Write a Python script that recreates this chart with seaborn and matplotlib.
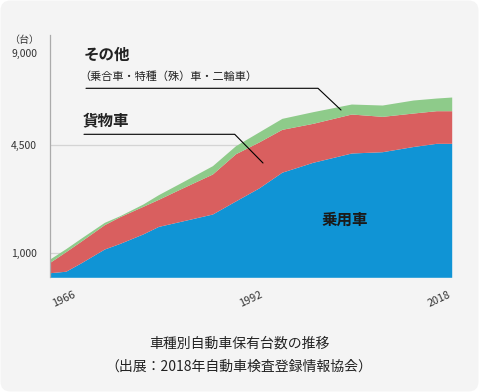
import numpy as np
import matplotlib
matplotlib.use("Agg")
import matplotlib.pyplot as plt
import seaborn as sns
from matplotlib.patches import FancyBboxPatch
from matplotlib.lines import Line2D
from matplotlib.ticker import NullLocator
from matplotlib.transforms import IdentityTransform

# data
years = [1966, 1968, 1970, 1973, 1975, 1978, 1980, 1983, 1987, 1990,
         1993, 1996, 2000, 2005, 2009, 2013, 2016, 2018]
passenger = [191, 250, 601, 1129, 1310, 1616, 1858, 2029, 2258, 2681,
             3097, 3607, 3926, 4226, 4268, 4436, 4559, 4559]
truck = [439, 793, 786, 785, 862, 890, 873, 1057, 1291, 1522,
         1526, 1642, 1619, 1779, 1622, 1618, 1610, 1610]
other = [137, 97, 97, 75, 32, 75, 151, 194, 268, 260,
         494, 542, 575, 493, 559, 642, 625, 675]

series_colors = ["#1094d5", "#d95f5f", "#8ecb8a"]
ytick_values = [1000, 4500, 9000]
ytick_labels = ["1,000", "4,500", "9,000"]
xtick_values = [1966, 1992, 2018]
xtick_labels = ["1966", "1992", "2018"]

sns.set_theme(style="white")
plt.rcParams["font.family"] = ["Noto Sans CJK JP", "DejaVu Sans"]

# the y axis is not linear: each gap between the ticks has its own length
scale_vals = [0, 1000, 4500, 9000, 10000]
scale_pos = [0, 24.3, 132.8, 224, 244.3]


def fwd(v):
    return np.interp(v, scale_vals, scale_pos)


def inv(p):
    return np.interp(p, scale_pos, scale_vals)


W, H = 479, 392


def px(x, y):
    return x / W, 1 - y / H


fig = plt.figure(figsize=(W / 100, H / 100), dpi=100)
fig.patch.set_facecolor("white")
bg = FancyBboxPatch((0.5, 0.5), W - 1, H - 1, boxstyle="round,pad=0,rounding_size=10",
                    transform=IdentityTransform(), facecolor="#f4f4f4",
                    edgecolor="none", zorder=-5)
fig.add_artist(bg)

ax = fig.add_axes([50.3 / W, 1 - 277.3 / H, (451.7 - 50.3) / W, (277.3 - 35) / H])
ax.patch.set_alpha(0)

ax.stackplot(years, passenger, truck, other, colors=series_colors,
             linewidth=0, zorder=2)
ax.set_yscale("function", functions=(fwd, inv))
ax.set_xlim(1966, 2018)
ax.set_ylim(0, 9903)

for v in [1000, 4500]:
    ax.axhline(v, color="#d4d4d4", lw=0.9, zorder=1)

sns.despine(ax=ax, bottom=True)
ax.spines["left"].set_color("#ababab")
ax.spines["left"].set_linewidth(0.9)

ax.set_yticks(ytick_values, ytick_labels, fontsize=7.5, color="#333333")
ax.yaxis.set_minor_locator(NullLocator())
ax.tick_params(axis="y", length=0, pad=9.5)

ax.set_xticks(xtick_values, xtick_labels, rotation=25, fontsize=7.8, color="#333333")
ax.tick_params(axis="x", length=0, pad=9)
for lab, ha in zip(ax.get_xticklabels(), ["left", "center", "right"]):
    lab.set_ha(ha)

# unit
fig.text(*px(39, 40), "（台）", fontsize=7.2, color="#333333", ha="right", va="center")

# annotations
fig.text(*px(84, 55), "その他", fontsize=11.2, fontweight="bold", color="#222222",
         ha="left", va="center")
fig.text(*px(79, 77), "（乗合車・特種（殊）車・二輪車）", fontsize=8, color="#222222",
         ha="left", va="center")
fig.add_artist(Line2D([86 / W, 318 / W, 341 / W],
                      [1 - 88.3 / H, 1 - 88.3 / H, 1 - 110 / H],
                      transform=fig.transFigure, color="black", lw=0.8))
fig.text(*px(83, 120), "貨物車", fontsize=11.2, fontweight="bold", color="#222222",
         ha="left", va="center")
fig.add_artist(Line2D([84 / W, 234.7 / W, 263 / W],
                      [1 - 134.3 / H, 1 - 134.3 / H, 1 - 163 / H],
                      transform=fig.transFigure, color="black", lw=0.8))
fig.text(*px(345, 220), "乗用車", fontsize=11.2, fontweight="bold", color="#1a1a1a",
         ha="center", va="center")

# caption
fig.text(*px(239.5, 344), "車種別自動車保有台数の推移", fontsize=10, color="#222222",
         ha="center", va="center")
fig.text(*px(238.5, 367), "（出展：2018年自動車検査登録情報協会）", fontsize=10,
         color="#222222", ha="center", va="center")

fig.savefig("out.png", dpi=100, facecolor=fig.get_facecolor())
